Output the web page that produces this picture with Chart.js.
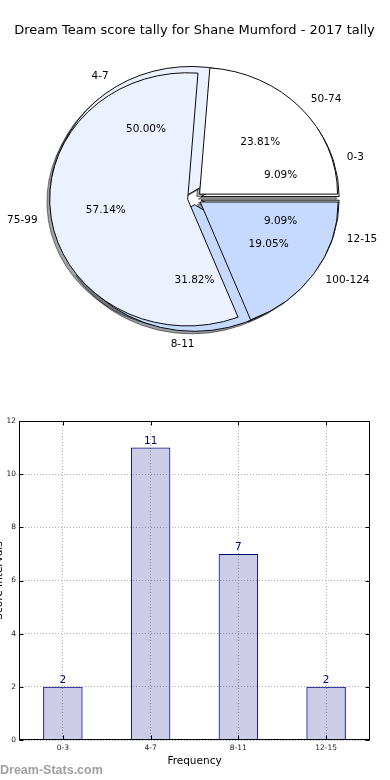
<!DOCTYPE html>
<html>
<head>
<meta charset="utf-8">
<script src="https://cdn.jsdelivr.net/npm/chart.js@4.4.1/dist/chart.umd.min.js"></script>
<style>
  html, body { margin: 0; padding: 0; background: #fff; }
  #wrap { position: relative; width: 390px; height: 780px; overflow: hidden; }
  #pie { position: absolute; left: 0; top: 0; }
  #bars { position: absolute; left: -12px; top: 400px; }
</style>
</head>
<body>
<div id="wrap">
  <canvas id="pie" width="390" height="370"></canvas>
  <canvas id="bars" width="402" height="380"></canvas>
</div>
<script>
// tally of games per score bracket (frequency) and per score range
const freqLabels = ['0-3', '4-7', '8-11', '12-15'];
const freqCounts = [2, 11, 7, 2];
const scoreLabels = ['50-74', '75-99', '100-124'];
const scoreCounts = [5, 12, 4];
const yMax = 12, yStep = 2;

const chartTitle = 'Dream Team score tally for Shane Mumford - 2017 tally';
const xTitle = 'Frequency';
const yTitle = 'Score Intervals';
const watermark = 'Dream-Stats.com';

Chart.defaults.font.family = "'DejaVu Sans', sans-serif";
Chart.defaults.color = '#000';

const wedgeColors = ['#ffffff', '#ebf1fe', '#c6d9fe'];
const PIE_RX = 138, PIE_RY = 126.6, EXPLODE = 0.05;

function pieCenter(chart){
    const a = chart.chartArea;
    return {cx: (a.left + a.right) / 2, cy: (a.top + a.bottom) / 2};
}

// matplotlib pie is drawn counter clockwise and squashed to the axes aspect
function squash(ctx, c){
    ctx.translate(c.cx, c.cy);
    ctx.scale(1, -PIE_RY / PIE_RX);
    ctx.translate(-c.cx, -c.cy);
}

const mplPie = {
    id: 'mplPie',
    afterUpdate(chart){
        const c = pieCenter(chart);
        chart.getSortedVisibleDatasetMetas().forEach(meta => {
            meta.data.forEach(arc => {
                const mid = (arc.startAngle + arc.endAngle) / 2;
                arc.innerRadius = 0;
                arc.outerRadius = PIE_RX;
                arc.x = c.cx + Math.cos(mid) * EXPLODE * PIE_RX;
                arc.y = c.cy + Math.sin(mid) * EXPLODE * PIE_RX;
            });
        });
    },
    beforeDatasetsDraw(chart){
        const ctx = chart.ctx, c = pieCenter(chart);
        // shadows of every wedge go under all wedges
        ctx.save();
        ctx.translate(-2.8, 2.5);
        squash(ctx, c);
        ctx.filter = 'brightness(0.3)';
        ctx.globalAlpha = 0.5;
        chart.getSortedVisibleDatasetMetas().slice().reverse().forEach(meta => {
            meta.data.forEach(arc => arc.draw(ctx));
        });
        ctx.restore();
        ctx.save();
        squash(ctx, c);
    },
    afterDatasetsDraw(chart){
        chart.ctx.restore();
    },
    afterDraw(chart){
        const ctx = chart.ctx, c = pieCenter(chart);
        ctx.save();
        ctx.font = "10.5px 'DejaVu Sans'";
        ctx.fillStyle = '#000';
        ctx.textBaseline = 'middle';
        chart.data.datasets.forEach((ds, di) => {
            const meta = chart.getDatasetMeta(di);
            const total = ds.data.reduce((s, v) => s + v, 0);
            meta.data.forEach((arc, i) => {
                const mid = (arc.startAngle + arc.endAngle) / 2;
                const cos = Math.cos(mid), sin = Math.sin(mid);
                const lr = 1.1 + EXPLODE, pr = 0.6 + EXPLODE;
                ctx.textAlign = cos > 1e-9 ? 'left' : 'right';
                ctx.fillText(ds.names[i], c.cx + cos * PIE_RX * lr, c.cy - sin * PIE_RY * lr);
                ctx.textAlign = 'center';
                ctx.fillText((ds.data[i] / total * 100).toFixed(2) + '%', c.cx + cos * PIE_RX * pr, c.cy - sin * PIE_RY * pr);
            });
        });
        ctx.restore();
    }
};

new Chart(document.getElementById('pie'), {
    type: 'pie',
    data: {
        datasets: [{
            label: 'frequency',
            names: freqLabels,
            data: freqCounts,
            backgroundColor: freqCounts.map((v, i) => wedgeColors[i % 3]),
            order: 1,
            clip: false,
            rotation: 90
        }, {
            label: 'score',
            names: scoreLabels,
            data: scoreCounts,
            backgroundColor: scoreCounts.map((v, i) => wedgeColors[i % 3]),
            order: 0,
            clip: false,
            rotation: 90
        }]
    },
    options: {
        responsive: false,
        animation: false,
        events: [],
        devicePixelRatio: 1,
        rotation: 90,
        radius: PIE_RX,
        layout: {padding: {left: 0, right: 1, top: 0, bottom: 11.8}},
        elements: {arc: {borderColor: '#000', borderWidth: 1}},
        plugins: {
            legend: {display: false},
            tooltip: {enabled: false},
            title: {
                display: true,
                text: chartTitle,
                color: '#000',
                font: {size: 13, weight: 'normal'},
                padding: {top: 23, bottom: 0}
            }
        }
    },
    plugins: [mplPie]
});

const barExtras = {
    id: 'barExtras',
    afterDatasetsDraw(chart){
        const ctx = chart.ctx;
        const meta = chart.getDatasetMeta(0);
        ctx.save();
        ctx.font = "10.5px 'DejaVu Sans'";
        ctx.fillStyle = 'navy';
        ctx.textAlign = 'center';
        ctx.textBaseline = 'bottom';
        meta.data.forEach((bar, i) => {
            ctx.fillText(String(chart.data.datasets[0].data[i]), bar.x, bar.y - 1);
        });
        ctx.restore();
    },
    afterDraw(chart){
        const ctx = chart.ctx, a = chart.chartArea;
        const {x, y} = chart.scales;
        const L = Math.round(a.left) + 0.5, R = Math.round(a.right) - 0.5;
        const T = Math.round(a.top) + 0.5, B = Math.round(a.bottom) - 0.5;
        ctx.save();
        ctx.strokeStyle = '#000';
        ctx.lineWidth = 1;
        ctx.strokeRect(L, T, R - L, B - T);
        ctx.beginPath();
        y.ticks.forEach((t, i) => {
            const py = Math.round(y.getPixelForTick(i)) + 0.5;
            ctx.moveTo(L, py); ctx.lineTo(L + 4, py);
            ctx.moveTo(R, py); ctx.lineTo(R - 4, py);
        });
        x.ticks.forEach((t, i) => {
            const px = Math.round(x.getPixelForTick(i)) + 0.5;
            ctx.moveTo(px, B); ctx.lineTo(px, B - 4);
            ctx.moveTo(px, T); ctx.lineTo(px, T + 4);
        });
        ctx.stroke();
        ctx.font = "bold 12.5px 'Liberation Sans'";
        ctx.fillStyle = '#a0a0a0';
        ctx.textAlign = 'left';
        ctx.textBaseline = 'middle';
        ctx.fillText(watermark, 12, 371);
        ctx.restore();
    }
};

const gridStyle = {color: '#b4b4b4', lineWidth: 1, drawTicks: false, offset: false};
const borderStyle = {display: false, dash: [1, 2]};

new Chart(document.getElementById('bars'), {
    type: 'bar',
    data: {
        labels: freqLabels,
        datasets: [{
            data: freqCounts,
            backgroundColor: 'rgba(0, 0, 128, 0.2)',
            borderColor: 'navy',
            borderWidth: 1,
            barPercentage: 0.45,
            categoryPercentage: 1
        }]
    },
    options: {
        responsive: false,
        animation: false,
        events: [],
        devicePixelRatio: 1,
        layout: {padding: {top: 21, right: 20, bottom: 0, left: 0}},
        plugins: {legend: {display: false}, tooltip: {enabled: false}},
        scales: {
            x: {
                grid: gridStyle,
                border: borderStyle,
                ticks: {color: '#222', font: {size: 7.5}, padding: 4, maxRotation: 0},
                title: {display: true, text: xTitle, font: {size: 10.5}, padding: {top: 0, bottom: 12.7}},
                afterFit(scale){ scale.height = 40; }
            },
            y: {
                min: 0,
                max: yMax,
                grid: gridStyle,
                border: borderStyle,
                ticks: {stepSize: yStep, color: '#222', font: {size: 7.5}, padding: 3},
                title: {display: true, text: yTitle, font: {size: 10.5}, padding: {top: 5, bottom: 0}},
                afterFit(scale){ scale.width = 31; }
            }
        }
    },
    plugins: [barExtras]
});
</script>
</body>
</html>
